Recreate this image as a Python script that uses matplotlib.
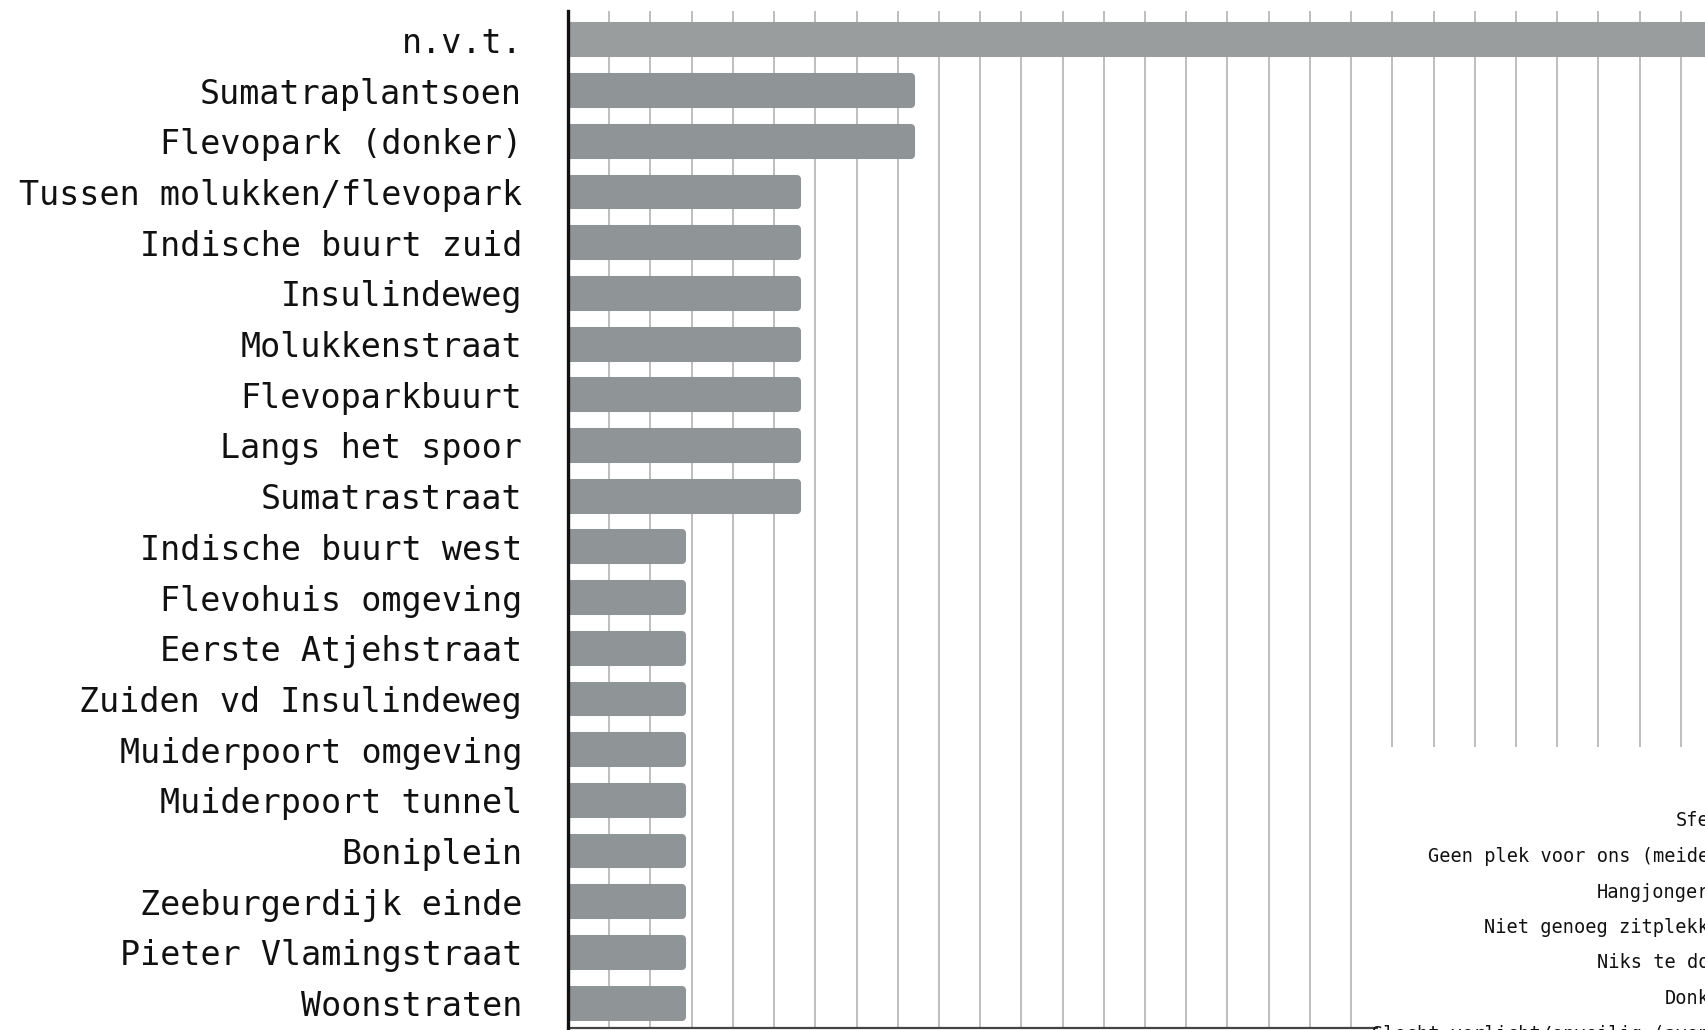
import matplotlib.pyplot as plt
import numpy as np
from matplotlib.patches import Rectangle
from matplotlib.ticker import MultipleLocator

# locaties (aantal keer genoemd)
locaties = ["n.v.t.", "Sumatraplantsoen", "Flevopark (donker)",
            "Tussen molukken/flevopark", "Indische buurt zuid", "Insulindeweg",
            "Molukkenstraat", "Flevoparkbuurt", "Langs het spoor", "Sumatrastraat",
            "Indische buurt west", "Flevohuis omgeving", "Eerste Atjehstraat",
            "Zuiden vd Insulindeweg", "Muiderpoort omgeving", "Muiderpoort tunnel",
            "Boniplein", "Zeeburgerdijk einde", "Pieter Vlamingstraat", "Woonstraten"]
aantallen = [10, 3, 3, 2, 2, 2, 2, 2, 2, 2, 1, 1, 1, 1, 1, 1, 1, 1, 1, 1]

# labels van de (deels afgedekte) tweede grafiek rechtsonder
redenen = ["Sfeer", "Geen plek voor ons (meiden)", "Hangjongeren",
           "Niet genoeg zitplekken", "Niks te doen", "Donker",
           "Slecht verlicht/onveilig (avond)"]

W, H = 1706, 1030
fig = plt.figure(figsize=(W / 100, H / 100), dpi=100)
fig.patch.set_facecolor("white")
ax = fig.add_axes([568 / W, 2 / H, 1 - 568 / W, (1028 - 11) / H])

y = np.arange(len(locaties))
kleuren = ["#999d9d"] + ["#8f9496"] * (len(locaties) - 1)
# dikke rand met ronde hoeken geeft de afgeronde balken
ax.barh(y, aantallen, height=0.53, color=kleuren, edgecolor=kleuren,
        linewidth=5.8, joinstyle="round", zorder=2)

ax.set_xlim(0, 9.94)
ax.set_ylim(19.49, -0.57)
ax.set_yticks(y)
ax.set_yticklabels(locaties, family="DejaVu Sans Mono", fontsize=24, color="#111111")
ax.tick_params(axis="y", length=0, pad=33)
ax.tick_params(axis="x", length=0, labelbottom=False)

ax.xaxis.set_major_locator(MultipleLocator(0.36))
ax.grid(axis="x", color="#b9b9b9", linewidth=1.3, zorder=0)
ax.set_axisbelow(True)

for s in ["top", "right"]:
    ax.spines[s].set_visible(False)
ax.spines["left"].set_linewidth(2.4)
ax.spines["left"].set_color("#111111")
ax.spines["left"].set_zorder(3)
ax.spines["bottom"].set_linewidth(1.6)
ax.spines["bottom"].set_color("#444444")

# witte overlappende kaart rechtsonder
fig.patches.append(Rectangle((1378 / W, 0), 1, 1 - 747 / H, transform=fig.transFigure,
                             facecolor="white", edgecolor="none", zorder=5))
for i, r in enumerate(redenen):
    fig.text(1732 / W, 1 - (821 + i * 35.5) / H, r, ha="right", va="center",
             family="DejaVu Sans Mono", fontsize=13.4, color="#111111", zorder=6)

fig.savefig("out.png", dpi=100)
